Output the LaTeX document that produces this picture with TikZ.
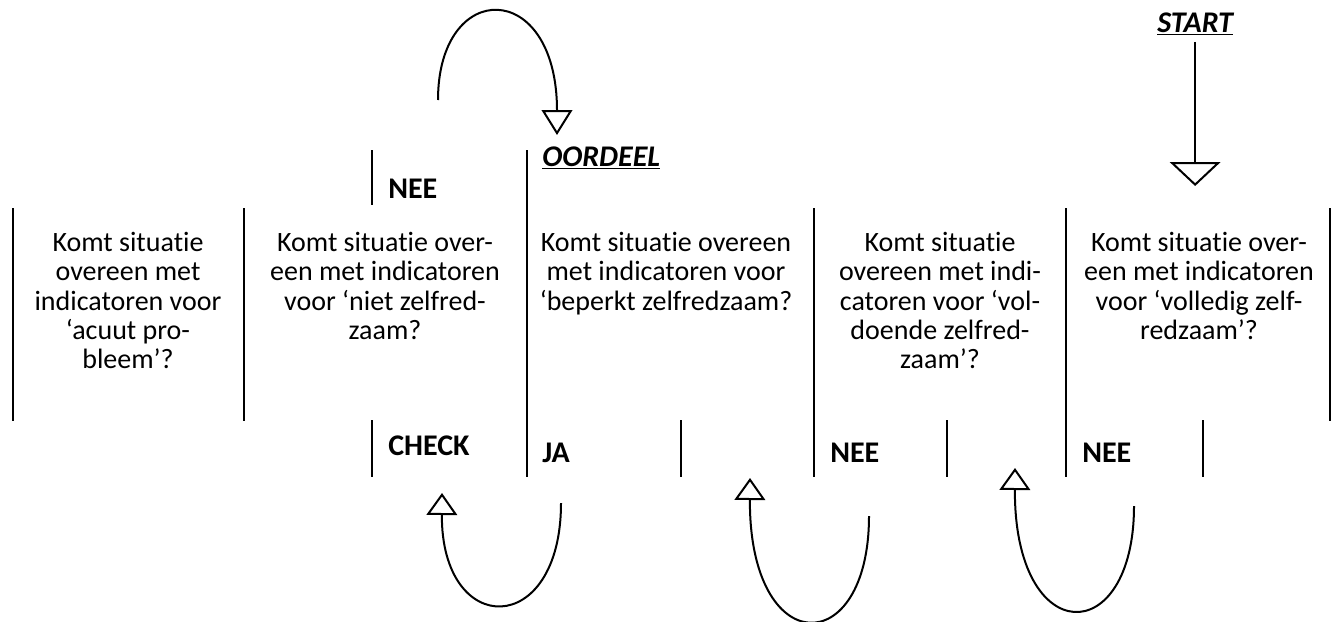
\documentclass[tikz,border=0pt]{standalone}
\usepackage{fontspec}
\setmainfont{Carlito}[Ligatures=NoCommon]
\usetikzlibrary{arrows.meta}

\tikzset{
  divider/.style={line width=1.5pt},
  question/.style={anchor=north, align=center, inner sep=0pt,
                   font=\fontsize{21}{22}\selectfont},
  answer/.style={anchor=base west, inner sep=0pt,
                 font=\fontsize{22.5}{24}\selectfont\bfseries},
  marker/.style={answer, font=\fontsize{22.5}{24}\selectfont\bfseries\itshape},
  flow/.style={line width=1.5pt, -{Triangle[open, length=16.5pt, width=23pt]}},
}

\begin{document}
\begin{tikzpicture}[x=0.75pt, y=-0.75pt]
 \useasboundingbox (0,0) rectangle (1338,621);

 % kolomlijnen
 \foreach \x in {13,244,1330} \draw[divider] (\x,208) -- (\x,421);
 \foreach \x in {814,1066} \draw[divider] (\x,208) -- (\x,477);
 \draw[divider] (527,150) -- (527,477);
 \foreach \x in {372,681,947,1203} \draw[divider] (\x,420) -- (\x,477);
 \draw[divider] (372,150) -- (372,205);

 % vragen
 \node[question] (acuut) at (128,232)
   {Komt situatie\\overeen met\\indicatoren voor\\‘acuut pro-\\bleem’?};
 \node[question] (niet) at (385,232)
   {Komt situatie over-\\een met indicatoren\\voor ‘niet zelfred-\\zaam?};
 \node[question] (beperkt) at (666,232)
   {Komt situatie overeen\\met indicatoren voor\\‘beperkt zelfredzaam?};
 \node[question] (voldoende) at (940,232)
   {Komt situatie\\overeen met indi-\\catoren voor ‘vol-\\doende zelfred-\\zaam’?};
 \node[question] (volledig) at (1199,232)
   {Komt situatie over-\\een met indicatoren\\voor ‘volledig zelf-\\redzaam’?};

 % labels
 \node[marker] (start) at (1157,32) {\underline{START}};
 \node[marker] (oordeel) at (542,166) {\underline{OORDEEL}};
 \node[answer] (neeniet) at (388,198) {NEE};
 \node[answer] (check) at (388,455) {CHECK};
 \node[answer] (ja) at (542,462) {JA};
 \node[answer] (neevoldoende) at (830,462) {NEE};
 \node[answer] (neevolledig) at (1082,462) {NEE};

 % pijlen
 \coordinate (startin) at (start.south |- 0,186);
 \draw[flow, -{Triangle[open, length=18pt, width=38pt]}]
   ([yshift=-5pt]start.south) -- (startin);

 \coordinate (nietuit) at (438,100);
 \coordinate (oordeelin) at (557,135);
 \draw[flow, -{Triangle[open, length=18.75pt, width=23pt]}]
   (nietuit) .. controls (438,-22) and (557,-22) .. (oordeelin);

 \coordinate (jauit) at (561,503);
 \coordinate (checkin) at (442,493);
 \draw[flow] (jauit) .. controls (561,639) and (441,639) .. (checkin);

 \coordinate (voldoendeuit) at (869,516);
 \coordinate (beperktin) at (750,478);
 \draw[flow] (voldoendeuit) .. controls (869,661) and (749,661) .. (beperktin);

 \coordinate (volledigagain) at (1134,506);
 \coordinate (voldoendein) at (1015,468);
 \draw[flow] (volledigagain) .. controls (1134,650) and (1014,650) .. (voldoendein);
\end{tikzpicture}
\end{document}
